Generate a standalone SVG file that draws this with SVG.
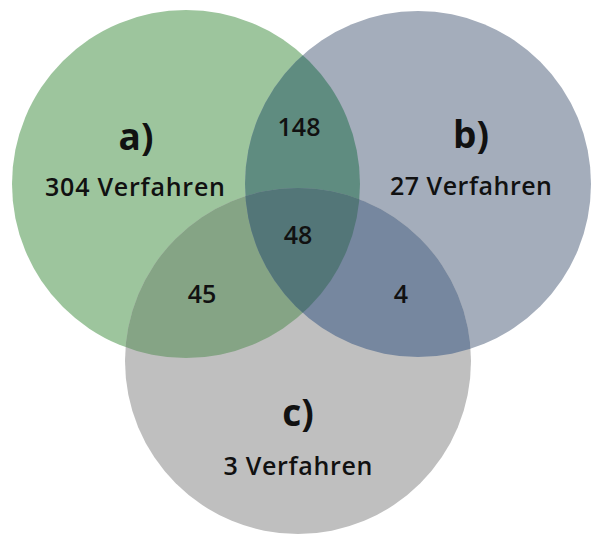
<svg xmlns="http://www.w3.org/2000/svg" width="593" height="534" viewBox="0 0 593 534">
<style>
.t{font-family:"Open Sans","Liberation Sans",sans-serif;font-size:25px;font-weight:600;fill:#111;text-anchor:middle}
.h{font-family:"Open Sans","Liberation Sans",sans-serif;font-size:37px;font-weight:bold;fill:#111;text-anchor:middle}
</style>
<defs>
<clipPath id="ca"><circle cx="186" cy="184" r="174"/></clipPath>
<clipPath id="cb"><circle cx="418" cy="184" r="173"/></clipPath>
</defs>
<rect width="593" height="534" fill="#fff"/>
<g id="set-a"><circle cx="186" cy="184" r="174" fill="#9dc59d"/></g>
<g id="set-b"><circle cx="418" cy="184" r="173" fill="#a4adbb"/></g>
<g id="set-c"><circle cx="298" cy="361" r="173" fill="#bfbfbf"/></g>
<g id="ab"><circle cx="418" cy="184" r="173" fill="#5f8c80" clip-path="url(#ca)"/></g>
<g id="ac"><circle cx="298" cy="361" r="173" fill="#85a485" clip-path="url(#ca)"/></g>
<g id="bc"><circle cx="298" cy="361" r="173" fill="#76879f" clip-path="url(#cb)"/></g>
<g id="abc" clip-path="url(#cb)"><circle cx="298" cy="361" r="173" fill="#537678" clip-path="url(#ca)"/></g>
<g id="labels">
<text class="h" x="136" y="150">a)</text>
<text class="t" x="135" y="196" textLength="180" lengthAdjust="spacing">304 Verfahren</text>
<text class="h" x="471" y="148">b)</text>
<text class="t" x="471" y="195" textLength="162" lengthAdjust="spacing">27 Verfahren</text>
<text class="h" x="298" y="426">c)</text>
<text class="t" x="298" y="475" textLength="149" lengthAdjust="spacing">3 Verfahren</text>
<text class="t" x="299" y="136">148</text>
<text class="t" x="298" y="244">48</text>
<text class="t" x="202" y="303">45</text>
<text class="t" x="401" y="303">4</text>
</g>
</svg>
